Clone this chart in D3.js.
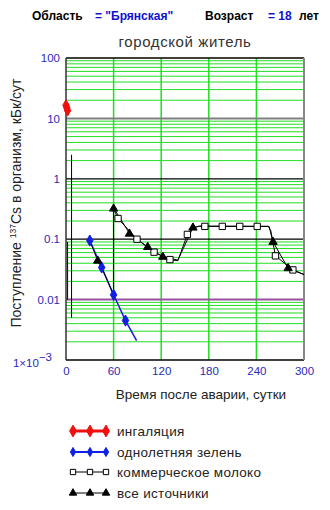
<!DOCTYPE html>
<html><head><meta charset="utf-8">
<script src="https://cdn.jsdelivr.net/npm/d3@7"></script>
<style>body{margin:0;background:#fff}svg{display:block}text{font-family:"Liberation Sans",Arial,sans-serif}</style>
</head><body><svg id="c" width="330" height="510"></svg>
<script>
// ---- data ----
const xTicks = [0, 60, 120, 180, 240, 300];
const yTicks = [100, 10, 1, 0.1, 0.01, 0.001];
const yTickLabels = ["100", "10", "1", "0.1", "0.01", "1×10"];

const inhalDays = [0, 1, 2];
const inhalVals = [16.5, 15, 13.5];

const greenDays = [30, 45, 60, 75, 89];
const greenVals = [0.095, 0.034, 0.012, 0.0045, 0.0021];
const greenMarkDays = [30, 45, 60, 75];
const greenMarkVals = [0.095, 0.034, 0.012, 0.0045];

const milkDays = [60, 65.6, 89.5, 111, 131, 141, 153, 160, 168, 255, 258, 264, 286, 300];
const milkVals = [0.32, 0.22, 0.1, 0.061, 0.046, 0.044, 0.12, 0.155, 0.163, 0.163, 0.14, 0.053, 0.031, 0.026];
const milkMarkDays = [65.6, 89.5, 111, 131, 153, 175, 197, 219, 241, 264, 286];
const milkMarkVals = [0.22, 0.1, 0.061, 0.046, 0.12, 0.163, 0.163, 0.163, 0.163, 0.053, 0.031];

const allSeg1Days = [2, 2];
const allSeg1Vals = [0.09, 0.01];
const allSeg2Days = [7, 7];
const allSeg2Vals = [2.5, 0.005];
const allDays = [30, 40, 45, 60, 60, 80, 103, 122, 141, 160, 168, 256, 261, 280, 300];
const allVals = [0.095, 0.044, 0.034, 0.012, 0.33, 0.125, 0.074, 0.051, 0.045, 0.155, 0.165, 0.163, 0.09, 0.033, 0.026];
const allMarkDays = [40, 60, 80, 103, 122, 160, 261, 280];
const allMarkVals = [0.044, 0.32, 0.123, 0.074, 0.051, 0.155, 0.09, 0.033];

const legendLabels = ["ингаляция", "однолетняя зелень", "коммерческое молоко", "все источники"];

// ---- drawing ----
const svg = d3.select("#c");
const x = d3.scaleLinear().domain([0, 300]).range([66, 304]);
const y = d3.scaleLog().domain([0.001, 100]).range([360, 58]);
const blueTxt = "#2a2ab8";

// header
const h = svg.append("text").attr("y", 20).attr("font-size", 12).attr("font-weight", "bold");
h.append("tspan").attr("x", 32).attr("fill", "#000").text("Область");
h.append("tspan").attr("x", 95).attr("fill", "#1010d0").text("= \"Брянская\"");
h.append("tspan").attr("x", 205).attr("fill", "#000").text("Возраст");
h.append("tspan").attr("x", 268).attr("fill", "#1010d0").text("= 18");
h.append("tspan").attr("x", 299).attr("fill", "#000").text("лет");
svg.append("text").attr("x", 185).attr("y", 47).attr("text-anchor", "middle")
  .attr("font-size", 15).attr("letter-spacing", 0.6).attr("fill", "#333").text("городской житель");

// grid minor
const minor = [];
for (let e = -3; e <= 1; e++) for (let k = 2; k <= 9; k++) minor.push(k * Math.pow(10, e));
svg.append("g").selectAll("line").data(minor).join("line")
  .attr("x1", x(0)).attr("x2", x(300)).attr("y1", d => y(d)).attr("y2", d => y(d))
  .attr("stroke", "#22dd22").attr("stroke-width", 1);
svg.append("g").selectAll("line").data([60, 120, 180, 240]).join("line")
  .attr("x1", d => x(d)).attr("x2", d => x(d)).attr("y1", y(100)).attr("y2", y(0.001))
  .attr("stroke", "#22dd22").attr("stroke-width", 1.5);
// decade lines
const decCol = { 100: "#000", 10: "#808080", 1: "#000", 0.1: "#000", 0.01: "#9a50a0", 0.001: "#000" };
svg.append("g").selectAll("line").data(yTicks).join("line")
  .attr("x1", x(0)).attr("x2", x(300)).attr("y1", d => y(d)).attr("y2", d => y(d))
  .attr("stroke", d => decCol[d]).attr("stroke-width", d => d === 10 || d === 0.01 ? 2 : 1.3);
svg.append("line").attr("x1", x(0)).attr("x2", x(0)).attr("y1", y(100)).attr("y2", y(0.001)).attr("stroke", "#333").attr("stroke-width", 1.5);
svg.append("line").attr("x1", x(300)).attr("x2", x(300)).attr("y1", y(100)).attr("y2", y(0.001)).attr("stroke", "#888").attr("stroke-width", 2);

// axes
const ya = svg.append("g").attr("transform", `translate(${x(0) - 3},0)`)
  .call(d3.axisLeft(y).tickValues(yTicks).tickSize(0).tickFormat((d, i) => yTickLabels[i]));
ya.select(".domain").remove();
ya.selectAll("text").attr("fill", blueTxt).attr("font-size", 11.5).attr("font-family", "Liberation Sans, Arial");
ya.selectAll(".tick").filter(d => d === 0.001).select("text").attr("dx", "-8").attr("dy", "0.6em")
  .append("tspan").attr("font-size", 11.5).attr("dy", "-0.6em").text("−3");
const xa = svg.append("g").attr("transform", `translate(0,${y(0.001) + 4})`)
  .call(d3.axisBottom(x).tickValues(xTicks).tickSize(0).tickFormat(d3.format("d")));
xa.select(".domain").remove();
xa.selectAll("text").attr("fill", blueTxt).attr("font-size", 11.5).attr("font-family", "Liberation Sans, Arial");

svg.append("text").attr("x", 201).attr("y", 399).attr("text-anchor", "middle")
  .attr("font-size", 13.5).attr("fill", "#222").text("Время после аварии, сутки");
const yt = svg.append("text").attr("transform", "translate(21,203) rotate(-90)").attr("text-anchor", "middle")
  .attr("font-size", 14).attr("fill", "#222");
yt.append("tspan").text("Поступление ");
yt.append("tspan").attr("font-size", 8.5).attr("dy", -5).text("137");
yt.append("tspan").attr("dy", 5).text("Cs в организм, кБк/сут");

// series
const line = d3.line().x(d => x(d[0])).y(d => y(d[1]));
const zip = (a, b) => a.map((d, i) => [d, b[i]]);
svg.append("path").attr("d", line(zip(greenDays, greenVals))).attr("fill", "none").attr("stroke", "#1020e0").attr("stroke-width", 1.5);
svg.append("path").attr("d", line(zip(milkDays, milkVals))).attr("fill", "none").attr("stroke", "#000").attr("stroke-width", 1);
[zip(allSeg1Days, allSeg1Vals), zip(allSeg2Days, allSeg2Vals), zip(allDays, allVals)].forEach(seg =>
  svg.append("path").attr("d", line(seg)).attr("fill", "none").attr("stroke", "#000").attr("stroke-width", 1));

const sym = (type, size) => d3.symbol().type(type).size(size)();
function markers(days, vals, type, size, fill, stroke, sw) {
  svg.append("g").selectAll("path").data(zip(days, vals)).join("path")
    .attr("transform", d => `translate(${x(d[0])},${y(d[1])})`)
    .attr("d", sym(type, size)).attr("fill", fill).attr("stroke", stroke).attr("stroke-width", sw);
}
markers(greenMarkDays, greenMarkVals, d3.symbolDiamond, 36, "#1020e0", "#1020e0", 1);
markers(milkMarkDays, milkMarkVals, d3.symbolSquare, 40, "#fff", "#000", 1);
markers(allMarkDays, allMarkVals, d3.symbolTriangle, 30, "#000", "#000", 1);
markers(inhalDays, inhalVals, d3.symbolDiamond, 36, "#f01010", "#f01010", 1);

// legend
const lg = svg.append("g");
const ly = [431, 452, 472, 493];
const lStyle = [
  { c: "#f01010", w: 3, t: d3.symbolDiamond, s: 40, f: "#f01010" },
  { c: "#1020e0", w: 2, t: d3.symbolDiamond, s: 24, f: "#1020e0" },
  { c: "#000", w: 1, t: d3.symbolSquare, s: 28, f: "#fff" },
  { c: "#000", w: 1, t: d3.symbolTriangle, s: 24, f: "#000" }
];
legendLabels.forEach((lab, i) => {
  const st = lStyle[i];
  lg.append("line").attr("x1", 72).attr("x2", 107).attr("y1", ly[i]).attr("y2", ly[i]).attr("stroke", st.c).attr("stroke-width", st.w);
  [73, 90, 106].forEach(px => lg.append("path").attr("transform", `translate(${px},${ly[i]})`)
    .attr("d", sym(st.t, st.s)).attr("fill", st.f).attr("stroke", st.c).attr("stroke-width", 1));
  lg.append("text").attr("x", 117).attr("y", ly[i] + 5).attr("font-size", 13.5).attr("letter-spacing", 0.3).attr("fill", "#222").text(lab);
});
</script></body></html>
